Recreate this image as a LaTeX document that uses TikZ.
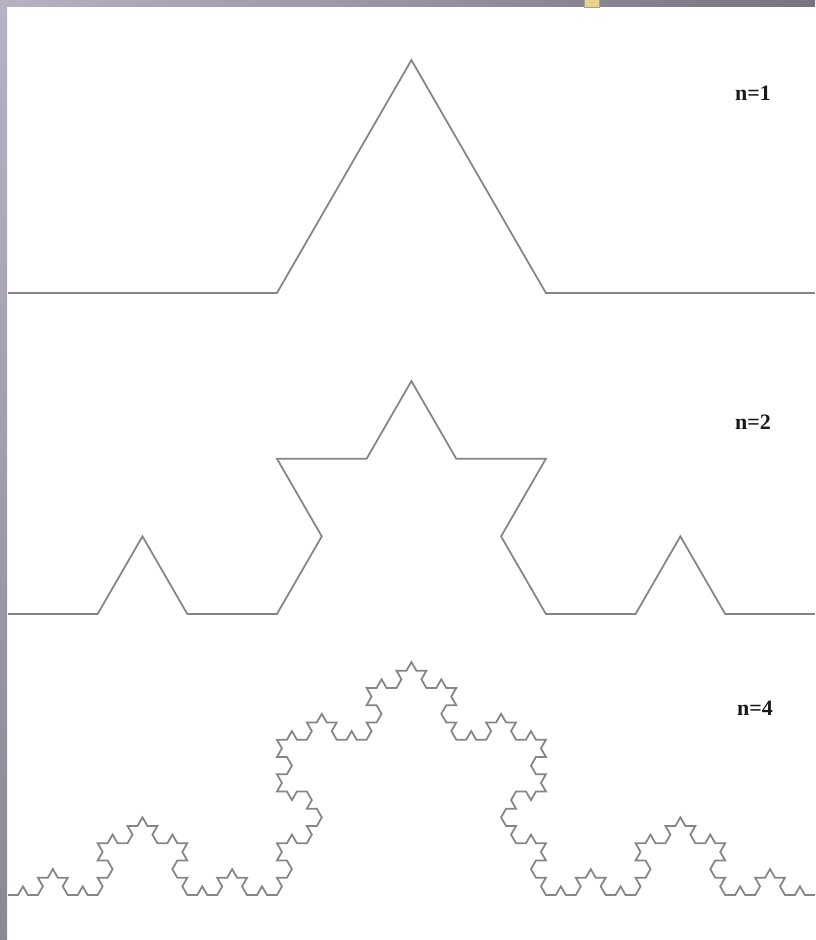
\documentclass[tikz,border=0pt]{standalone}
\usepackage{fontspec}
\setmainfont{Liberation Serif}
\usetikzlibrary{lindenmayersystems}
\definecolor{Curve}{HTML}{858585}
\definecolor{BarLeft}{HTML}{B8B1C3}
\definecolor{BarRight}{HTML}{77737F}
\definecolor{StripBottom}{HTML}{8B8795}
\definecolor{Tab}{HTML}{E8D38F}
\pgfdeclarelindenmayersystem{Koch bump}{\rule{F -> F+F--F+F}}
\tikzset{
    koch/.style={draw=Curve, line width=1pt, line join=miter},
    ordine/.style={font=\bfseries\fontsize{12.5}{15}\selectfont, text=black!90, inner sep=1pt},
}
\begin{document}
\begin{tikzpicture}[x=0.02cm, y=0.02cm]
                \useasboundingbox (0,0) rectangle (815,940);
                % Cornice
                \fill[white] (0,0) rectangle (815,940);
                \shade[left color=BarLeft, right color=BarRight] (0,933) rectangle (815,940);
                \shade[top color=BarLeft, bottom color=StripBottom] (0,0) rectangle (7,933);
                \fill[Tab, draw=BarRight!70] (584,933) rectangle (599,941);

                % Punti di partenza delle tre curve
                \coordinate (a1) at (8,647);
                \coordinate (a2) at (8,326);
                \coordinate (a4) at (8,45);

                % n=1
                \draw[koch, shift={(a1)}, l-system={Koch bump, axiom=F, order=1, angle=60, step=5.38cm}] l-system;
                % n=2
                \draw[koch, shift={(a2)}, l-system={Koch bump, axiom=F, order=2, angle=60, step=1.79333cm}] l-system;
                % n=4
                \draw[koch, shift={(a4)}, l-system={Koch bump, axiom=F, order=4, angle=60, step=0.199259cm}] l-system;

                % Etichette
                \node[ordine] (n1) at (753,847) {n=1};
                \node[ordine] (n2) at (753,518) {n=2};
                \node[ordine] (n4) at (755,232) {n=4};
            \end{tikzpicture}
\end{document}
